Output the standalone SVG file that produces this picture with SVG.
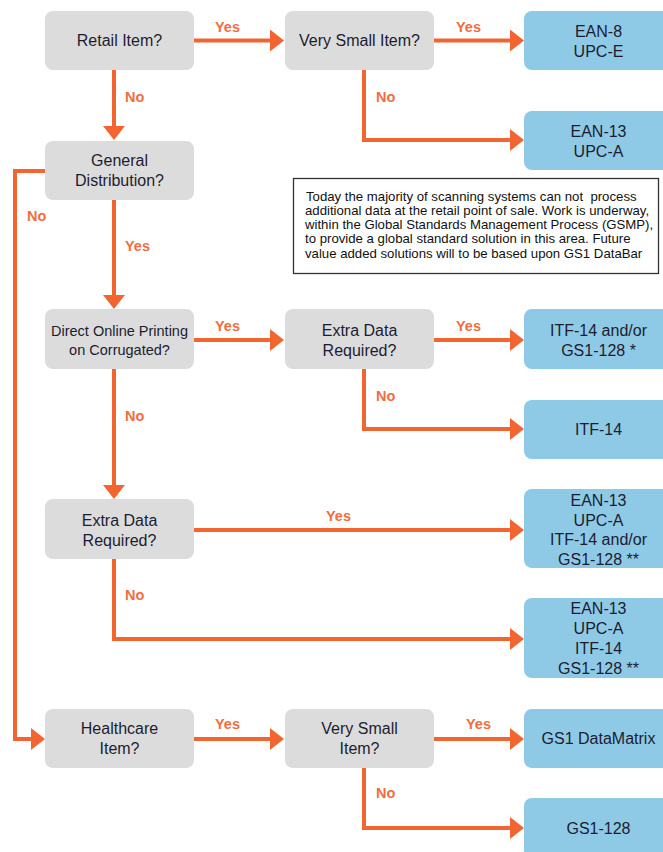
<svg xmlns="http://www.w3.org/2000/svg" width="663" height="852" viewBox="0 0 663 852">
<style>
.dec{fill:#dcdcdc}
.res{fill:#8ecae6}
.t{font-family:"Liberation Sans",Arial,sans-serif;font-size:16px;fill:#1c1c30;text-anchor:middle}
.ts{font-size:14.5px}
.lb{font-family:"Liberation Sans",Arial,sans-serif;font-size:14.5px;font-weight:bold;fill:#f26d3d}
.c{fill:none;stroke:#f26530;stroke-width:4;stroke-linejoin:miter}
.a{marker-end:url(#ah)}
.note{font-family:"Liberation Sans",Arial,sans-serif;font-size:13.2px;fill:#111;white-space:pre}
</style>
<defs>
<marker id="ah" markerUnits="userSpaceOnUse" markerWidth="14" markerHeight="22" refX="1" refY="11" orient="auto">
<path d="M0,0 L14,11 L0,22 Z" fill="#f26530"/>
</marker>
</defs>
<rect width="663" height="852" fill="#fff"/>

<g id="connectors">
<path class="c a" d="M194,40.5 H271"/>
<path class="c a" d="M114,70 V127"/>
<path class="c a" d="M434,40.5 H511"/>
<path class="c a" d="M364,70 V140 H511"/>
<path class="c a" d="M45,171 H15 V739 H32"/>
<path class="c a" d="M114,200 V296"/>
<path class="c a" d="M194,340 H271"/>
<path class="c a" d="M434,340 H511"/>
<path class="c a" d="M364,369 V429 H511"/>
<path class="c a" d="M114,369 V486"/>
<path class="c a" d="M194,530 H511"/>
<path class="c a" d="M114,559 V639 H511"/>
<path class="c a" d="M194,739 H271"/>
<path class="c a" d="M434,739 H511"/>
<path class="c a" d="M364,768 V828 H511"/>
<text class="lb" x="215" y="32">Yes</text>
<text class="lb" x="456" y="32">Yes</text>
<text class="lb" x="125" y="102">No</text>
<text class="lb" x="376" y="102">No</text>
<text class="lb" x="27" y="221">No</text>
<text class="lb" x="125" y="251">Yes</text>
<text class="lb" x="215" y="331">Yes</text>
<text class="lb" x="456" y="331">Yes</text>
<text class="lb" x="125" y="421">No</text>
<text class="lb" x="376" y="401">No</text>
<text class="lb" x="326" y="521">Yes</text>
<text class="lb" x="125" y="600">No</text>
<text class="lb" x="215" y="729">Yes</text>
<text class="lb" x="466" y="729">Yes</text>
<text class="lb" x="376" y="798">No</text>
</g>

<g id="retail"><rect class="dec" x="45" y="11" width="149" height="59" rx="8"/><text class="t" x="119.5" y="46">Retail Item?</text></g>
<g id="verysmall1"><rect class="dec" x="285" y="11" width="149" height="59" rx="8"/><text class="t" x="359.5" y="46">Very Small Item?</text></g>
<g id="ean8"><rect class="res" x="524" y="11" width="149" height="59" rx="8"/><text class="t" x="598.5" y="37">EAN-8</text><text class="t" x="598.5" y="57">UPC-E</text></g>
<g id="ean13a"><rect class="res" x="524" y="111" width="149" height="59" rx="8"/><text class="t" x="598.5" y="137">EAN-13</text><text class="t" x="598.5" y="157">UPC-A</text></g>
<g id="general"><rect class="dec" x="45" y="141" width="149" height="59" rx="8"/><text class="t" x="119.5" y="166">General</text><text class="t" x="119.5" y="186">Distribution?</text></g>

<g id="note"><rect x="293.5" y="178.5" width="365" height="95" fill="#fff" stroke="#333" stroke-width="1.3"/>
<text class="note" x="306" y="200.5" xml:space="preserve">Today the majority of scanning systems can not  process</text>
<text class="note" x="305" y="214.8">additional data at the retail point of sale. Work is underway,</text>
<text class="note" x="305" y="229">within the Global Standards Management Process (GSMP),</text>
<text class="note" x="305" y="243.3">to provide a global standard solution in this area. Future</text>
<text class="note" x="305" y="257.6">value added solutions will to be based upon GS1 DataBar</text>
</g>

<g id="direct"><rect class="dec" x="45" y="309" width="149" height="60" rx="8"/><text class="t ts" x="119.5" y="336">Direct Online Printing</text><text class="t ts" x="119.5" y="355">on Corrugated?</text></g>
<g id="extra1"><rect class="dec" x="285" y="309" width="149" height="60" rx="8"/><text class="t" x="359.5" y="336">Extra Data</text><text class="t" x="359.5" y="356">Required?</text></g>
<g id="itf14andor"><rect class="res" x="524" y="309" width="149" height="60" rx="8"/><text class="t" x="598.5" y="336">ITF-14 and/or</text><text class="t" x="598.5" y="356">GS1-128 *</text></g>
<g id="itf14"><rect class="res" x="524" y="400" width="149" height="59" rx="8"/><text class="t" x="598.5" y="435">ITF-14</text></g>
<g id="extra2"><rect class="dec" x="45" y="499" width="149" height="60" rx="8"/><text class="t" x="119.5" y="526">Extra Data</text><text class="t" x="119.5" y="546">Required?</text></g>
<g id="ean13b"><rect class="res" x="524" y="489" width="149" height="79" rx="8"/><text class="t" x="598.5" y="506">EAN-13</text><text class="t" x="598.5" y="526">UPC-A</text><text class="t" x="598.5" y="545">ITF-14 and/or</text><text class="t" x="598.5" y="565">GS1-128 **</text></g>
<g id="ean13c"><rect class="res" x="524" y="598" width="149" height="80" rx="8"/><text class="t" x="598.5" y="614">EAN-13</text><text class="t" x="598.5" y="634">UPC-A</text><text class="t" x="598.5" y="654">ITF-14</text><text class="t" x="598.5" y="674">GS1-128 **</text></g>
<g id="healthcare"><rect class="dec" x="45" y="709" width="149" height="59" rx="8"/><text class="t" x="119.5" y="734">Healthcare</text><text class="t" x="119.5" y="754">Item?</text></g>
<g id="verysmall2"><rect class="dec" x="285" y="709" width="149" height="59" rx="8"/><text class="t" x="359.5" y="734">Very Small</text><text class="t" x="359.5" y="754">Item?</text></g>
<g id="datamatrix"><rect class="res" x="524" y="709" width="149" height="59" rx="8"/><text class="t" x="598.5" y="744">GS1 DataMatrix</text></g>
<g id="gs1128"><rect class="res" x="524" y="798" width="149" height="60" rx="8"/><text class="t" x="598.5" y="834">GS1-128</text></g>
</svg>
